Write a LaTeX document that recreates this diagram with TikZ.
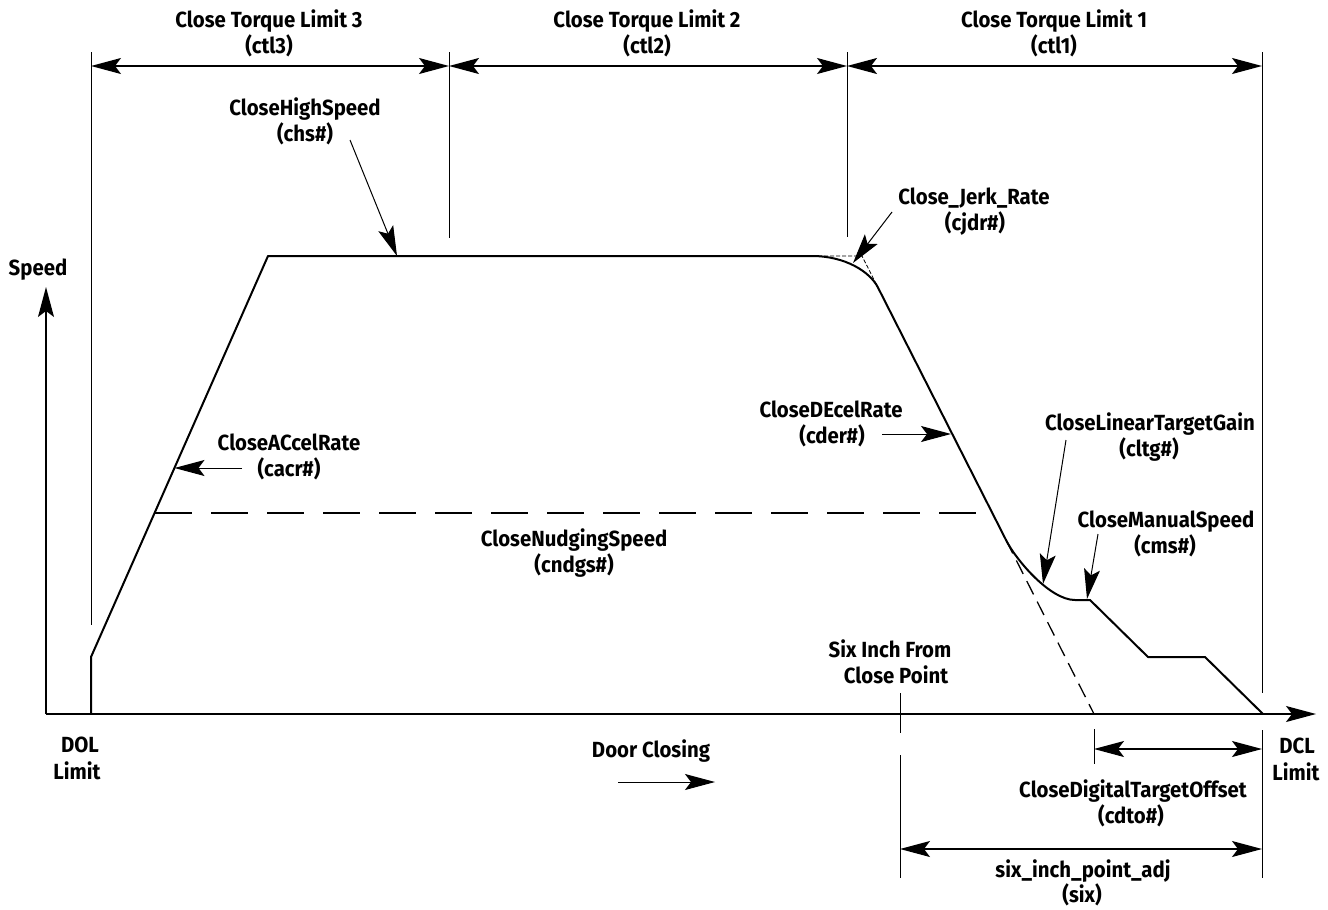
\documentclass[tikz,border=0pt]{standalone}
\usepackage{fontspec}
\setmainfont{Fira Sans}[FakeStretch=0.93]
\usetikzlibrary{arrows.meta}
\begin{document}
\begin{tikzpicture}[x=1bp,y=-1bp,
  lbl/.style={anchor=base, inner sep=0pt, font=\fontsize{22}{26}\selectfont\bfseries},
  curve/.style={line width=2bp, line join=round},
  thinline/.style={line width=1bp},
  axisline/.style={line width=1.3bp},
  tipend/.style={-{Stealth[length=30bp,width=16bp,inset=6bp]}},
  dimline/.style={line width=1.4bp, {Stealth[length=30bp,width=16bp,inset=6bp]}-{Stealth[length=30bp,width=16bp,inset=6bp]}},
]
\useasboundingbox (0,0) rectangle (1328,909);

% ---------- coordinates ----------
\coordinate (o) at (46,714);
\coordinate (xend) at (1316,714);
\coordinate (yend) at (46,287);
\coordinate (dolT) at (91,52);   \coordinate (dolB) at (91,625);
\coordinate (l2T) at (449,52);   \coordinate (l2B) at (449,238);
\coordinate (l1T) at (847,52);   \coordinate (l1B) at (847,237);
\coordinate (dclT) at (1262,52); \coordinate (dclB) at (1262,693);
\coordinate (dclT2) at (1262,730); \coordinate (dclB2) at (1262,878);
\coordinate (sixT) at (900,693); \coordinate (sixB) at (900,733);
\coordinate (sixT2) at (900,755); \coordinate (sixB2) at (900,878);
\coordinate (cdtoT) at (1094,729); \coordinate (cdtoB) at (1094,764);
\coordinate (d0) at (91,66); \coordinate (d1) at (449,66);
\coordinate (d2) at (847,66); \coordinate (d3) at (1262,66);
\coordinate (cd0) at (1094,749); \coordinate (cd1) at (1262,749);
\coordinate (sx0) at (900,849); \coordinate (sx1) at (1262,849);

\coordinate (p0) at (91,714);
\coordinate (p1) at (91,657);
\coordinate (p2) at (268,256);
\coordinate (p3) at (812,256);
\coordinate (pc) at (862,256);
\coordinate (p4) at (878,287.6);
\coordinate (knee) at (1006,540);
\coordinate (p5) at (1075,600);
\coordinate (p6) at (1090,600);
\coordinate (p7) at (1148,657);
\coordinate (p8) at (1205,657);
\coordinate (p9) at (1263,714);
\coordinate (dz) at (1094,714);
\coordinate (n0) at (155,513);
\coordinate (n1) at (985,513);

\coordinate (chsS) at (350,140); \coordinate (chsE) at (397,256);
\coordinate (cjS) at (892,212);  \coordinate (cjE) at (853,263);
\coordinate (acS) at (242,468);  \coordinate (acE) at (174.5,468);
\coordinate (deS) at (882,434);  \coordinate (deE) at (951,434);
\coordinate (ltS) at (1066,440); \coordinate (ltE) at (1043,584);
\coordinate (msS) at (1098,534); \coordinate (msE) at (1087,599);
\coordinate (dcS) at (618,782);  \coordinate (dcE) at (715,782);

% ---------- axes ----------
\draw[axisline,tipend] (o) -- (xend);
\draw[axisline,tipend] (o) -- (yend);

% ---------- guide lines ----------
\draw[thinline] (dolT) -- (dolB);
\draw[thinline] (l2T) -- (l2B);
\draw[thinline] (l1T) -- (l1B);
\draw[thinline] (dclT) -- (dclB);
\draw[thinline] (dclT2) -- (dclB2);
\draw[thinline] (sixT) -- (sixB);
\draw[thinline] (sixT2) -- (sixB2);
\draw[thinline] (cdtoT) -- (cdtoB);

% ---------- dimension arrows ----------
\draw[dimline] (d0) -- (d1);
\draw[dimline] (d1) -- (d2);
\draw[dimline] (d2) -- (d3);
\draw[dimline, line width=1.1bp] (cd0) -- (cd1);
\draw[dimline, line width=1.1bp] (sx0) -- (sx1);

% ---------- speed profile ----------
\draw[curve] (p0) -- (p1) -- (p2) -- (p3)
  .. controls (845,256) and (870,271.6) .. (p4) -- (knee)
  .. controls (1016,560) and (1050,600) .. (p5) -- (p6) -- (p7) -- (p8) -- (p9);
\draw[line width=1.3bp, dash pattern=on 15bp off 8bp] (knee) -- (dz);
\draw[line width=0.8bp, dash pattern=on 4bp off 2bp] (p3) -- (pc) -- (p4);
\draw[line width=1.2bp, dash pattern=on 37bp off 19bp] (n0) -- (n1);

% ---------- annotation arrows ----------
\draw[thinline,tipend] (chsS) -- (chsE);
\draw[thinline,tipend] (cjS) -- (cjE);
\draw[thinline,tipend] (acS) -- (acE);
\draw[thinline,tipend] (deS) -- (deE);
\draw[thinline,tipend] (ltS) -- (ltE);
\draw[thinline,tipend] (msS) -- (msE);
\draw[thinline,tipend] (dcS) -- (dcE);

% ---------- labels ----------
\node[lbl] (ctl3a) at (269,27) {Close Torque Limit 3};
\node[lbl] (ctl3b) at (269,53) {(ctl3)};
\node[lbl] (ctl2a) at (647,27) {Close Torque Limit 2};
\node[lbl] (ctl2b) at (647,53) {(ctl2)};
\node[lbl] (ctl1a) at (1054,27) {Close Torque Limit 1};
\node[lbl] (ctl1b) at (1054,53) {(ctl1)};
\node[lbl] (chsa) at (305,115) {CloseHighSpeed};
\node[lbl] (chsb) at (305,141) {(chs\#)};
\node[lbl] (cjdra) at (974,204) {Close\_Jerk\_Rate};
\node[lbl] (cjdrb) at (975,230) {(cjdr\#)};
\node[lbl] (cacra) at (289,450) {CloseACcelRate};
\node[lbl] (cacrb) at (289,476) {(cacr\#)};
\node[lbl] (cdera) at (831,417) {CloseDEcelRate};
\node[lbl] (cderb) at (832,443) {(cder\#)};
\node[lbl] (nudga) at (574,546) {CloseNudgingSpeed};
\node[lbl] (nudgb) at (574,572) {(cndgs\#)};
\node[lbl] (cltga) at (1150,430) {CloseLinearTargetGain};
\node[lbl] (cltgb) at (1149,456) {(cltg\#)};
\node[lbl] (cmsa) at (1166,527) {CloseManualSpeed};
\node[lbl] (cmsb) at (1165,553) {(cms\#)};
\node[lbl] (sixpa) at (890,657) {Six Inch From};
\node[lbl] (sixpb) at (896,683) {Close Point};
\node[lbl] (door) at (651,757) {Door Closing};
\node[lbl] (dcla) at (1297,753) {DCL};
\node[lbl] (dclb) at (1296,780) {Limit};
\node[lbl] (dola) at (80,752) {DOL};
\node[lbl] (dolb) at (77,779) {Limit};
\node[lbl] (speed) at (38,275) {Speed};
\node[lbl] (cdtoa) at (1133,797) {CloseDigitalTargetOffset};
\node[lbl] (cdtob) at (1131,823) {(cdto\#)};
\node[lbl] (sixa) at (1083,877) {six\_inch\_point\_adj};
\node[lbl] (sixb) at (1082,902) {(six)};
\end{tikzpicture}
\end{document}
